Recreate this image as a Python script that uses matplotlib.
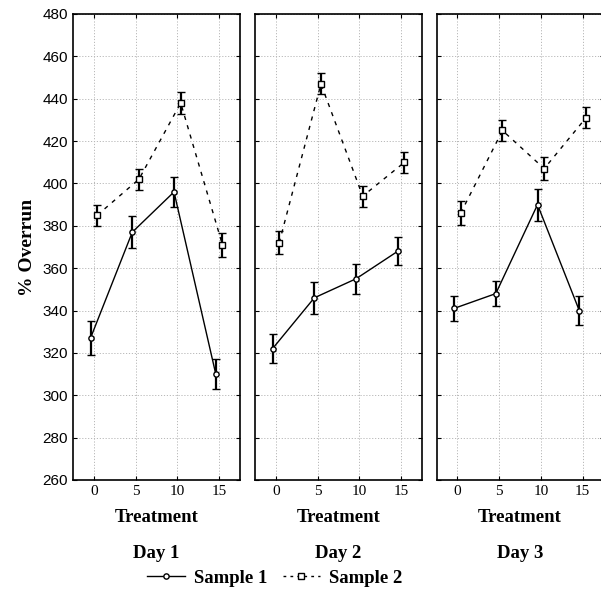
import matplotlib
matplotlib.use("Agg")
import matplotlib.pyplot as plt
from matplotlib.lines import Line2D
import numpy as np

treatments = [0, 5, 10, 15]
days = ["Day 1", "Day 2", "Day 3"]

s1_means = [
    [327, 377, 396, 310],
    [322, 346, 355, 368],
    [341, 348, 390, 340],
]
s1_err = [
    [8.0, 7.5, 7.0, 7.0],
    [7.0, 7.5, 7.0, 6.5],
    [6.0, 6.0, 7.5, 7.0],
]
s2_means = [
    [385, 402, 438, 371],
    [372, 447, 394, 410],
    [386, 425, 407, 431],
]
s2_err = [
    [5.0, 5.0, 5.0, 5.5],
    [5.5, 5.0, 5.0, 5.0],
    [5.5, 5.0, 5.5, 5.0],
]
yticks = list(range(260, 481, 20))
xticks = [0, 5, 10, 15]
series_names = ["Sample 1", "Sample 2"]

W, H = 601, 592
fig = plt.figure(figsize=(W / 100, H / 100), dpi=100)

lefts = [73, 255, 436.5]
pw = 167
top_px, bot_px = 14, 480

serif = "Liberation Serif"
sans = "Liberation Sans"

off = 0.4
for i, day in enumerate(days):
    ax = fig.add_axes([lefts[i] / W, 1 - bot_px / H, pw / W, (bot_px - top_px) / H])
    x = np.array(treatments, dtype=float)
    ax.plot(x - off, s1_means[i], color="black", lw=1.0, ls="-", zorder=3)
    ax.errorbar(x - off, s1_means[i], yerr=s1_err[i], fmt="o", ms=3.8,
                mfc="white", mec="black", mew=1.0, ecolor="black",
                elinewidth=1.6, capsize=3, capthick=1.2, zorder=4)
    ax.plot(x + off, s2_means[i], color="black", lw=1.0, ls=(0, (3, 4)), zorder=3)
    ax.errorbar(x + off, s2_means[i], yerr=s2_err[i], fmt="s", ms=5,
                mfc="white", mec="black", mew=1.0, ecolor="black",
                elinewidth=1.6, capsize=3, capthick=1.2, zorder=4)
    ax.set_xlim(-2.5, 17.5)
    ax.set_ylim(260, 480)
    ax.set_xticks(xticks)
    ax.set_yticks(yticks)
    ax.grid(True, color="#b8b8b8", ls=(0, (1.2, 1.8)), lw=0.7)
    ax.tick_params(direction="in", length=3, top=True, right=True, width=0.8)
    ax.set_xticklabels([str(t) for t in xticks], family=serif, fontsize=11)
    if i == 0:
        ax.set_yticklabels([str(t) for t in yticks], family=sans, fontsize=11)
        ax.set_ylabel("% Overrun", family=serif, fontweight="bold", fontsize=14, labelpad=5)
    else:
        ax.set_yticklabels([])
    for sp in ax.spines.values():
        sp.set_linewidth(1.2)
    ax.set_xlabel("Treatment", family=serif, fontweight="bold", fontsize=13.5, labelpad=8)
    ax.text(0.5, -0.157, day, transform=ax.transAxes, ha="center", va="center",
            family=serif, fontweight="bold", fontsize=13.5)

handles = [
    Line2D([], [], color="black", lw=1.0, ls="-", marker="o", ms=3.8, mfc="white", mec="black"),
    Line2D([], [], color="black", lw=1.0, ls=(0, (2, 3)), marker="s", ms=4.5, mfc="white", mec="black"),
]
leg = fig.legend(handles, series_names, loc="center", bbox_to_anchor=(275 / W, 1 - 578 / H),
                 ncol=2, frameon=False, handlelength=2.0, columnspacing=0.8, handletextpad=0.5,
                 prop={"family": serif, "weight": "bold", "size": 13.5})

fig.savefig("out.png", dpi=100)
